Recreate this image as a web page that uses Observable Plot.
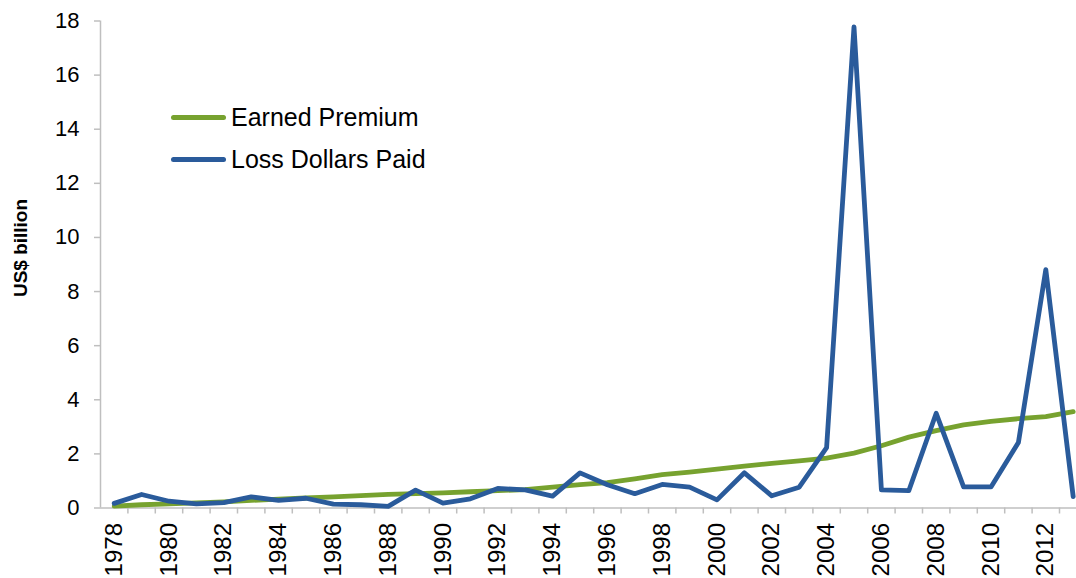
<!DOCTYPE html>
<html>
<head>
<meta charset="utf-8">
<script src="https://cdn.jsdelivr.net/npm/d3@7"></script>
<script src="https://cdn.jsdelivr.net/npm/@observablehq/plot@0.6"></script>
<style>
  html, body { margin: 0; padding: 0; background: #fff; overflow: hidden; }
  #chart { position: relative; width: 1076px; height: 578px; font-family: "Liberation Sans", Arial, sans-serif; }
  #legend { position: absolute; left: 171px; top: 96px; font-size: 25px; color: #000; }
  .row { display: flex; align-items: center; height: 42.6px; }
  .swatch { width: 55px; height: 5px; border-radius: 3px; margin-right: 5px; }
  #ytitle {
    position: absolute; left: 21px; top: 248px;
    transform: translate(-50%, -50%) rotate(-90deg);
    white-space: nowrap; font-size: 19px; font-weight: bold; color: #000;
  }
</style>
</head>
<body>
<div id="chart"></div>
<script>
// Annual totals, US$ billion
const years = d3.range(1978, 2014);
const earnedPremium = [
  0.07, 0.12, 0.15, 0.19, 0.23, 0.28, 0.33, 0.37, 0.41, 0.46,
  0.50, 0.53, 0.56, 0.60, 0.64, 0.68, 0.77, 0.86, 0.94, 1.08,
  1.23, 1.33, 1.44, 1.55, 1.65, 1.74, 1.84, 2.03, 2.30, 2.62,
  2.86, 3.07, 3.20, 3.30, 3.38, 3.56
];
const lossDollarsPaid = [
  0.17, 0.50, 0.25, 0.15, 0.20, 0.41, 0.28, 0.36, 0.14, 0.12,
  0.06, 0.66, 0.18, 0.34, 0.72, 0.67, 0.44, 1.30, 0.86, 0.53,
  0.87, 0.77, 0.30, 1.30, 0.45, 0.77, 2.23, 17.78, 0.67, 0.64,
  3.50, 0.78, 0.78, 2.42, 8.81, 0.42
];
const yTicks = [0, 2, 4, 6, 8, 10, 12, 14, 16, 18];
const labelYears = years.filter(y => y % 2 === 0);
const yTitle = "US$ billion";
const series = [
  {name: "Earned Premium", color: "#77a22f", values: earnedPremium},
  {name: "Loss Dollars Paid", color: "#2a5b9b", values: lossDollarsPaid}
];

// category boundaries between years carry the small tick marks
const boundaries = years.slice(0, -1).map(y => y + 0.5);
const axisColor = "#bfbfbf";

const plot = Plot.plot({
  width: 1076,
  height: 578,
  marginLeft: 100,
  marginRight: 0,
  marginTop: 20.5,
  marginBottom: 70.5,
  style: {fontFamily: '"Liberation Sans", Arial, sans-serif', background: "transparent", overflow: "hidden"},
  x: {domain: [1977.5, 2013.5], range: [100, 1086.4]},
  y: {domain: [0, 18]},
  marks: [
    Plot.ruleY([0], {stroke: axisColor, strokeWidth: 1.5}),
    Plot.ruleX([1977.5], {stroke: axisColor, strokeWidth: 1.5}),
    Plot.axisY(yTicks, {
      tickSize: 6, tickPadding: 15, fontSize: 22, label: null,
      stroke: axisColor, fill: "#000", strokeWidth: 1.5
    }),
    Plot.axisX(boundaries, {
      tickSize: 6, tickFormat: () => "", label: null,
      stroke: axisColor, strokeWidth: 1.5
    }),
    Plot.axisX(labelYears, {
      tickSize: 0, tickPadding: 15, tickRotate: -90, fontSize: 24,
      tickFormat: d => String(d), label: null, fill: "#000"
    }),
    ...series.map(s => Plot.line(years, {
      x: d => d,
      y: (d, i) => s.values[i],
      stroke: s.color,
      strokeWidth: 4.8,
      strokeLinejoin: "round",
      strokeLinecap: "round"
    }))
  ]
});
const chart = document.getElementById("chart");
chart.appendChild(plot);

// y-axis title
const title = document.createElement("div");
title.id = "ytitle";
title.textContent = yTitle;
chart.appendChild(title);

// legend
const legend = document.createElement("div");
legend.id = "legend";
for (const s of series) {
  const row = document.createElement("div");
  row.className = "row";
  const sw = document.createElement("span");
  sw.className = "swatch";
  sw.style.background = s.color;
  const label = document.createElement("span");
  label.textContent = s.name;
  row.append(sw, label);
  legend.appendChild(row);
}
chart.appendChild(legend);
</script>
</body>
</html>
